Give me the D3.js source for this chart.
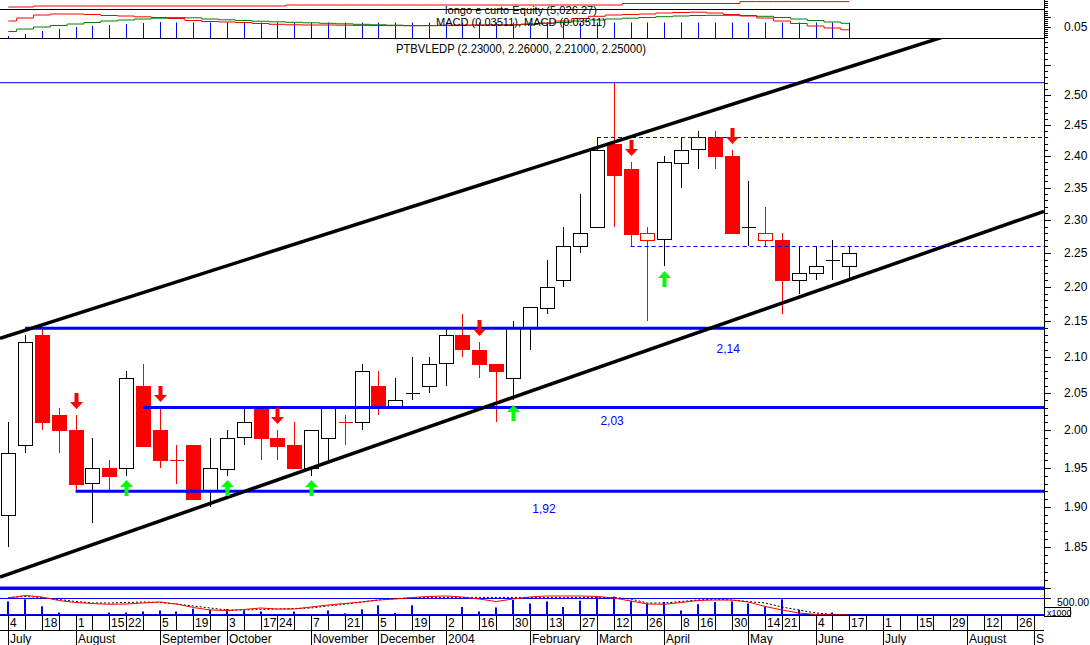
<!DOCTYPE html>
<html><head><meta charset="utf-8">
<script src="https://cdn.jsdelivr.net/npm/d3@7"></script>
<style>
body{margin:0;background:#fff}
svg{display:block}
text{font-family:"Liberation Sans",Arial,sans-serif;fill:#000}
</style></head>
<body><svg id="c" width="1090" height="645"></svg>
<script>
// ---------------- DATA ----------------
const open  = [1.89,1.98,2.13,2.02,2.00,1.93,1.95,1.95,2.06,2.00,1.96,1.98,1.92,1.95,1.99,2.03,1.99,1.98,1.95,1.99,2.01,2.01,2.06,2.03,2.05,2.06,2.09,2.13,2.11,2.09,2.07,2.14,2.17,2.21,2.26,2.29,2.42,2.38,2.27,2.27,2.39,2.41,2.43,2.40,2.29,2.27,2.27,2.21,2.22,2.24,2.23];
const high  = [2.01,2.13,2.14,2.03,2.02,1.99,1.96,2.08,2.09,2.03,1.98,1.98,1.99,2.00,2.03,2.03,2.00,2.01,2.00,2.03,2.02,2.09,2.08,2.07,2.10,2.10,2.14,2.16,2.12,2.09,2.15,2.17,2.24,2.29,2.34,2.43,2.52,2.39,2.29,2.40,2.43,2.44,2.44,2.41,2.36,2.32,2.28,2.26,2.26,2.27,2.26];
const low   = [1.85,1.97,2.00,1.97,1.92,1.88,1.92,1.94,1.98,1.95,1.93,1.91,1.90,1.94,1.98,1.96,1.96,1.95,1.94,1.96,1.98,2.00,2.02,2.03,2.04,2.05,2.06,2.10,2.07,2.01,2.04,2.11,2.16,2.20,2.25,2.29,2.29,2.26,2.15,2.23,2.35,2.38,2.38,2.28,2.26,2.26,2.16,2.19,2.21,2.21,2.21];
const close = [1.97,2.12,2.01,2.00,1.93,1.95,1.94,2.07,1.98,1.96,1.96,1.91,1.95,1.99,2.01,1.99,1.98,1.95,2.00,2.03,2.01,2.08,2.03,2.04,2.05,2.09,2.13,2.11,2.09,2.08,2.14,2.17,2.20,2.26,2.28,2.41,2.37,2.28,2.28,2.39,2.41,2.43,2.40,2.28,2.29,2.28,2.21,2.22,2.23,2.24,2.25];

const sellSignals = [4,9,16,28,37,43];
const buySignals  = [7,13,18,30,39];

const macd   = [0.079,0.094,0.109,0.114,0.114,0.1115,0.1065,0.104,0.100,0.0965,0.0915,0.0815,0.0765,0.074,0.0715,0.0665,0.0625,0.060,0.059,0.059,0.058,0.057,0.0565,0.056,0.0555,0.0565,0.058,0.059,0.059,0.059,0.060,0.064,0.069,0.079,0.0915,0.1025,0.109,0.1115,0.114,0.119,0.1215,0.123,0.119,0.1115,0.104,0.094,0.079,0.0665,0.054,0.044,0.0351];
const signal = [0.0265,0.039,0.049,0.0565,0.064,0.0715,0.079,0.084,0.089,0.093,0.096,0.095,0.089,0.085,0.0815,0.078,0.075,0.0725,0.070,0.0675,0.065,0.0625,0.060,0.058,0.056,0.0555,0.056,0.057,0.058,0.059,0.060,0.0615,0.0675,0.0715,0.079,0.084,0.089,0.093,0.0965,0.1005,0.104,0.1065,0.1075,0.1075,0.1065,0.1025,0.0965,0.089,0.0815,0.074,0.0675];
const macdBars = [0.004,0.014,0.029,0.039,0.049,0.054,0.059,0.064,0.069,0.074,0.0715,0.0715,0.0715,0.0715,0.0715,0.0715,0.0715,0.0715,0.0715,0.0715,0.0715,0.0715,0.0715,0.0715,0.0715,0.0715,0.0715,0.0715,0.0715,0.0715,0.0715,0.0715,0.0715,0.0715,0.0715,0.0715,0.0715,0.0715,0.0715,0.0715,0.0715,0.0715,0.0715,0.0715,0.0715,0.0715,0.0715,0.0715,0.0715,0.0715,0.070];

const equity = [3080,3080,3440,3440,3440,3440,3440,3440,3440,3440,3440,3440,3440,3440,3440,3440,3440,3800,3800,3800,3800,3800,3800,3800,3800,3800,3800,3800,3800,3800,3800,3800,3800,3800,3800,3800,3800,4340,4340,4340,4340,4340,4340,4340,5026.27,5026.27,5026.27,5026.27,5026.27,5026.27,5026.27];

const volume = [400,459,256,71,29,15,71,71,103,132,103,185,153,173,132,103,29,103,15,132,50,165,285,59,285,15,29,235,103,223,441,338,400,235,420,520,541,420,338,379,132,318,379,400,338,235,459,153,29,71,29];
const volFast = [500,573,529,426,368,338,315,323,353,382,323,221,147,132,162,206,176,176,235,294,338,382,441,470,515,544,559,529,470,397,470,529,559,559,559,544,500,412,323,315,368,426,441,441,382,250,147,59,15,0,6];
const volSlow = [515,544,515,456,397,353,353,368,382,368,323,265,206,147,147,162,176,191,206,265,315,382,441,485,500,515,517,517,517,517,517,517,517,517,517,517,517,470,353,353,397,441,470,441,397,353,235,147,59,15,6];

const supportLevels = [2.14, 2.03, 1.92];
const supportStart  = [1, 8, 4];
const supportText   = ["2,14", "2,03", "1,92"];
const supportTextSlot = [42.8, 35.9, 31.85];
const resistLevels = [2.43, 2.26];
const resistStart  = [35, 37];
const upperChannel = [[0, 2.1296], [50, 2.5466]];
const lowerChannel = [[0, 1.8171], [50, 2.2106]];
const topLine = 2.52, bottomLine = 1.80;

const priceTicks = [1.85,1.90,1.95,2.00,2.05,2.10,2.15,2.20,2.25,2.30,2.35,2.40,2.45,2.50];
const dayLabels = ["4","","18","","1","","15","22","","5","","19","","3","","17","24","","7","","21","","5","","19","","2","","16","","30","","13","","27","","12","","26","","8","16","","30","","14","21","","4","","17","","1","","15","","29","","12","","26",""];
const monthLabels = ["July","August","September","October","November","December","2004","February","March","April","May","June","July","August","S"];
const monthSlots  = [0,4,9,13,18,22,26,31,35,39,44,48,52,57,61];

const titleMain = "PTBVLEDP (2.23000, 2.26000, 2.21000, 2.25000)";
const titleMacd = "MACD (0.03511), MACD (0.03511)";
const titleEq = "longo e curto Equity (5,026.27)";

// ---------------- LAYOUT ----------------
const AX = 1044;
const svg = d3.select('#c');
const x = d3.scaleLinear().domain([0, 61]).range([8.3, 1034.3]);
const y = d3.scaleLog().domain([1.80, 2.52]).range([588.3, 82.7]);
const yM = d3.scaleLinear().domain([-0.006, 0.134]).range([38, 10]);
const yE = d3.scaleLinear().domain([2000, 5600]).range([10, 0]);
const yV = d3.scaleLinear().domain([0, 500]).range([615, 598]);
const RED = "#ff0000", BLUE = "#0000ff", GREEN = "#00ff00";
const idx = d3.range(open.length);

svg.append("rect").attr("width",1090).attr("height",645).attr("fill","#fff");

// ---- equity panel
svg.append("path").datum(idx).attr("fill","none").attr("stroke",RED).attr("stroke-width",1)
  .attr("d", d3.line().x(i=>x(i)).y(i=>yE(equity[i])).curve(d3.curveStep));

// ---- MACD panel
svg.append("g").selectAll("line").data(idx).join("line")
  .attr("x1",i=>Math.round(x(i))+0.5).attr("x2",i=>Math.round(x(i))+0.5)
  .attr("y1",yM(-0.006)).attr("y2",i=>yM(macdBars[i]))
  .attr("stroke",BLUE).attr("stroke-width",1);
svg.append("path").datum(idx).attr("fill","none").attr("stroke","#008000").attr("stroke-width",1)
  .attr("d", d3.line().x(i=>x(i)).y(i=>yM(signal[i])).curve(d3.curveStep));
svg.append("path").datum(idx).attr("fill","none").attr("stroke",RED).attr("stroke-width",1)
  .attr("d", d3.line().x(i=>x(i)).y(i=>yM(macd[i])).curve(d3.curveStep));

// panel separators
[9.5, 38.5].forEach(v=>svg.append("line").attr("x1",0).attr("x2",AX).attr("y1",v).attr("y2",v).attr("stroke","#000"));

// ---- main panel : candles
const g = svg.append("g").attr("shape-rendering","crispEdges");
const colorOf = i => (i>0 && close[i] <= close[i-1]) ? RED : "#000";
idx.forEach(i=>{
  const cx = Math.round(x(i)) + 0.5, col = colorOf(i);
  g.append("line").attr("x1",cx).attr("x2",cx).attr("y1",y(high[i])).attr("y2",y(low[i])).attr("stroke",col);
  if (open[i] === close[i]) {
    g.append("line").attr("x1",cx-7).attr("x2",cx+7).attr("y1",Math.round(y(close[i]))+0.5).attr("y2",Math.round(y(close[i]))+0.5).attr("stroke",col);
  } else {
    const top = y(Math.max(open[i],close[i])), bot = y(Math.min(open[i],close[i]));
    const filled = close[i] < open[i];
    g.append("rect").attr("x",cx-7).attr("width",14).attr("y",Math.round(top)+0.5).attr("height",Math.max(1,Math.round(bot-top)))
      .attr("fill", filled ? col : "#fff").attr("stroke", col);
  }
});

// horizontal level lines
svg.append("line").attr("x1",0).attr("x2",AX).attr("y1",y(topLine)).attr("y2",y(topLine)).attr("stroke",BLUE).attr("stroke-width",1);
svg.append("line").attr("x1",0).attr("x2",AX).attr("y1",y(bottomLine)).attr("y2",y(bottomLine)).attr("stroke",BLUE).attr("stroke-width",3.5);
supportLevels.forEach((lv,k)=>{
  svg.append("line").attr("x1",x(supportStart[k])).attr("x2",AX).attr("y1",y(lv)).attr("y2",y(lv)).attr("stroke",BLUE).attr("stroke-width",3);
});
const lblOff = [20.5, 13, 17.5];
supportLevels.forEach((lv,k)=>{
  svg.append("text").attr("x",x(supportTextSlot[k])).attr("y",y(lv)+lblOff[k]+4).attr("text-anchor","middle")
    .style("fill",BLUE).attr("font-size",12).text(supportText[k]);
});
resistLevels.forEach((lv,k)=>{
  svg.append("line").attr("x1",x(resistStart[k])).attr("x2",AX).attr("y1",Math.round(y(lv))+0.5).attr("y2",Math.round(y(lv))+0.5)
    .attr("stroke",BLUE).attr("stroke-width",1).attr("stroke-dasharray","4,3");
});

// channel lines (extended across the panel, clipped)
svg.append("clipPath").attr("id","mainClip").append("rect").attr("x",0).attr("y",39).attr("width",AX).attr("height",551);
[upperChannel, lowerChannel].forEach(ch=>{
  const x0 = x(ch[0][0]), y0 = y(ch[0][1]), x1 = x(ch[1][0]), y1 = y(ch[1][1]);
  const s = (y1-y0)/(x1-x0);
  svg.append("line").attr("clip-path","url(#mainClip)")
    .attr("x1",0).attr("y1",y0 + s*(0-x0)).attr("x2",AX).attr("y2",y0 + s*(AX-x0))
    .attr("stroke","#000").attr("stroke-width",3.5);
});

// signal arrows
sellSignals.forEach(i=>{
  const cx = Math.round(x(i))+0.5, tip = Math.round(y(high[i]) - 6);
  svg.append("path").attr("fill",RED)
    .attr("d",`M${cx-2},${tip-16}h4v9h4.5l-6.5,7l-6.5,-7h4.5z`);
});
buySignals.forEach(i=>{
  const cx = Math.round(x(i))+0.5, tip = Math.round(y(low[i]) + 4.5);
  svg.append("path").attr("fill",GREEN)
    .attr("d",`M${cx},${tip}l6.5,7h-4.5v9h-4v-9h-4.5z`);
});

// ---- volume panel
svg.append("line").attr("x1",0).attr("x2",AX).attr("y1",598.5).attr("y2",598.5).attr("stroke",BLUE);
svg.append("line").attr("x1",0).attr("x2",AX).attr("y1",614.5).attr("y2",614.5).attr("stroke",BLUE);
svg.append("g").selectAll("rect").data(idx).join("rect")
  .attr("x",i=>Math.round(x(i))-1).attr("width",2)
  .attr("y",i=>yV(volume[i])).attr("height",i=>615-yV(volume[i]))
  .attr("fill",BLUE);
svg.append("path").datum(idx).attr("fill","none").attr("stroke","#000").attr("stroke-dasharray","2,2")
  .attr("d", d3.line().x(i=>x(i)).y(i=>yV(volSlow[i])));
svg.append("path").datum(idx).attr("fill","none").attr("stroke",RED)
  .attr("d", d3.line().x(i=>x(i)).y(i=>yV(volFast[i])));

// ---- right axis
const ax = svg.append("g").attr("shape-rendering","crispEdges");
ax.append("line").attr("x1",AX+0.5).attr("x2",AX+0.5).attr("y1",0).attr("y2",616).attr("stroke","#000");
const minor = d3.range(180, 260).map(v=>v/100).filter(p=>y(p)>40 && y(p)<589);
minor.forEach(p=>{
  const major = Math.round(p*100)%5===0;
  const yy = Math.round(y(p))+0.5;
  ax.append("line").attr("x1",AX).attr("x2",AX+(major?7:4)).attr("y1",yy).attr("y2",yy).attr("stroke","#000");
});
priceTicks.forEach(p=>{
  svg.append("text").attr("x",1064).attr("y",y(p)+4).attr("font-size",12).text(p.toFixed(2));
});
d3.range(0,14).forEach(k=>{
  const v = k/100, yy = Math.round(yM(v))+0.5;
  ax.append("line").attr("x1",AX).attr("x2",AX+(k===5||k===10?7:4)).attr("y1",yy).attr("y2",yy).attr("stroke","#000");
});
svg.append("text").attr("x",1064).attr("y",yM(0.05)+4).attr("font-size",12).text("0.05");
[1,3,5,7].forEach(v=>ax.append("line").attr("x1",AX).attr("x2",AX+4).attr("y1",v+0.5).attr("y2",v+0.5).attr("stroke","#000"));
ax.append("line").attr("x1",AX).attr("x2",AX+7).attr("y1",yV(500)+0.5).attr("y2",yV(500)+0.5).attr("stroke","#000");
svg.append("text").attr("x",1057).attr("y",605.5).attr("font-size",10.5).text("500.00");
ax.append("rect").attr("x",AX+0.5).attr("y",607.5).attr("width",26).attr("height",9).attr("fill","#fff").attr("stroke","#000");
svg.append("text").attr("x",AX+3).attr("y",615.5).attr("font-size",9).text("x1000");

// ---- date axis
const da = svg.append("g").attr("shape-rendering","crispEdges");
da.append("line").attr("x1",0).attr("x2",AX).attr("y1",615.5).attr("y2",615.5).attr("stroke","#000");
da.append("line").attr("x1",0).attr("x2",AX).attr("y1",630.5).attr("y2",630.5).attr("stroke","#000");
dayLabels.forEach((t,i)=>{
  const xx = Math.round(x(i))+0.5;
  da.append("line").attr("x1",xx).attr("x2",xx).attr("y1",615).attr("y2",630).attr("stroke","#000");
  if (t) svg.append("text").attr("x",xx+1.5).attr("y",627).attr("font-size",12).text(t);
});
monthLabels.forEach((t,k)=>{
  const xx = Math.round(x(monthSlots[k]))+0.5;
  da.append("line").attr("x1",xx).attr("x2",xx).attr("y1",630).attr("y2",645).attr("stroke","#000");
  svg.append("text").attr("x",xx+1.5).attr("y",643).attr("font-size",12).text(t);
});

// ---- titles
svg.append("text").attr("x",445).attr("y",13.5).attr("font-size",10.5)
  .attr("textLength",152).attr("lengthAdjust","spacingAndGlyphs").text(titleEq);
svg.append("text").attr("x",436).attr("y",25.5).attr("font-size",10.5)
  .attr("textLength",170).attr("lengthAdjust","spacingAndGlyphs").text(titleMacd);
svg.append("text").attr("x",396).attr("y",53).attr("font-size",12)
  .attr("textLength",250).attr("lengthAdjust","spacingAndGlyphs").text(titleMain);
</script>
</body></html>
